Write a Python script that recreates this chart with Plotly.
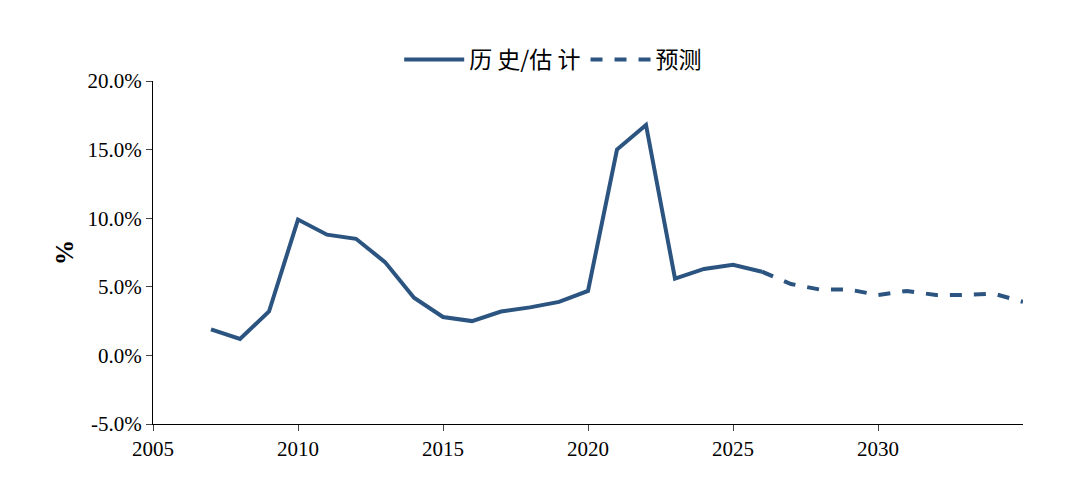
import plotly.graph_objects as go

hist_years = list(range(2007, 2027))
hist_vals = [1.9, 1.2, 3.2, 9.9, 8.8, 8.5, 6.8, 4.2, 2.8, 2.5, 3.2, 3.5, 3.9, 4.7, 15.0, 16.8, 5.6, 6.3, 6.6, 6.1]
fc_years = list(range(2026, 2036))
fc_vals = [6.1, 5.2, 4.8, 4.8, 4.4, 4.7, 4.4, 4.4, 4.5, 3.9]
y_ticks = [-5, 0, 5, 10, 15, 20]
y_labels = ["-5.0%", "0.0%", "5.0%", "10.0%", "15.0%", "20.0%"]
x_ticks = [2005, 2010, 2015, 2020, 2025, 2030]

color = "#2b5480"
fig = go.Figure()
fig.add_trace(go.Scatter(x=hist_years, y=hist_vals, mode="lines", name="历 史/估 计",
                         line=dict(color=color, width=4)))
fig.add_trace(go.Scatter(x=fc_years, y=fc_vals, mode="lines", name="预测",
                         line=dict(color=color, width=4, dash="dash")))
fig.update_layout(
    width=1080, height=480, plot_bgcolor="white", paper_bgcolor="white",
    margin=dict(l=145, r=65, t=73, b=64),
    font=dict(family="Liberation Serif, Noto Sans CJK SC", size=21, color="black"),
    legend=dict(orientation="h", x=0.46, xanchor="center", y=1.0, yanchor="bottom",
                font=dict(size=23, family="Noto Sans CJK SC"), itemwidth=60,
                tracegroupgap=40),
    showlegend=True,
)
fig.update_xaxes(range=[2005, 2035], tickvals=x_ticks, showline=True, linecolor="black",
                 linewidth=1, ticks="outside", ticklen=6, showgrid=False, zeroline=False,
                 automargin=False)
fig.update_yaxes(range=[-5, 20], tickvals=y_ticks, ticktext=y_labels, showline=True,
                 linecolor="black", linewidth=1, ticks="outside", ticklen=6, showgrid=False,
                 zeroline=False, automargin=False, title=dict(text="<b>%</b>", standoff=6))
fig.write_html("out.html")
